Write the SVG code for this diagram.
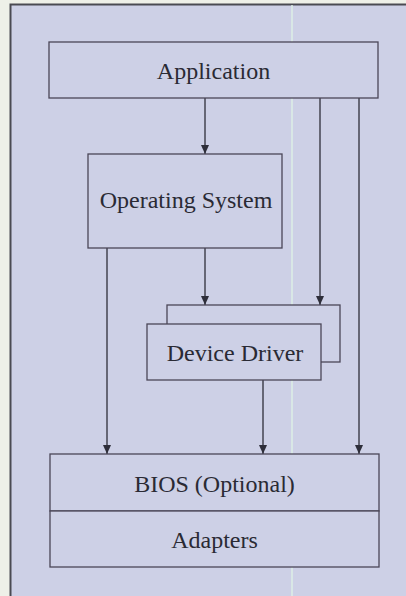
<svg xmlns="http://www.w3.org/2000/svg" width="406" height="596" viewBox="0 0 406 596">
<defs>
<marker id="ah" markerWidth="9" markerHeight="8" refX="9" refY="4" orient="auto" markerUnits="userSpaceOnUse" viewBox="0 0 9 8">
<path d="M0,0 L9,4 L0,8 Z" fill="#2e2e3a"/>
</marker>
</defs>
<style>
.box{fill:#cdd0e6;stroke:#4a4658;stroke-width:1.3}
.lbl{font-family:"Liberation Serif","Times New Roman",serif;font-size:24px;fill:#2a2a34;text-anchor:middle}
.con{stroke:#2e2e3a;stroke-width:1.3;fill:none}
.arr{marker-end:url(#ah)}
</style>
<rect x="0" y="0" width="406" height="596" fill="#eef0e8"/>
<rect x="10.5" y="4.5" width="400" height="600" fill="#cdd0e6" stroke="#4a4a52" stroke-width="2"/>
<line x1="292" y1="5" x2="292" y2="596" stroke="#dcefe6" stroke-width="1.5"/>
<g id="connectors">
<line class="con arr" x1="205" y1="98" x2="205" y2="154"/>
<line class="con arr" x1="320" y1="98" x2="320" y2="305"/>
<line class="con arr" x1="359" y1="98" x2="359" y2="454"/>
<line class="con arr" x1="205" y1="248" x2="205" y2="305"/>
<line class="con arr" x1="107" y1="248" x2="107" y2="454"/>
<line class="con arr" x1="263" y1="380" x2="263" y2="454"/>
</g>
<g id="application">
<rect class="box" x="49" y="42" width="329" height="56"/>
<text class="lbl" x="213.5" y="79">Application</text>
</g>
<g id="operating-system">
<rect class="box" x="88" y="154" width="194" height="94"/>
<text class="lbl" x="186" y="208">Operating System</text>
</g>
<g id="device-driver">
<rect class="box" x="167" y="305" width="173" height="57"/>
<rect class="box" x="147" y="324" width="174" height="56"/>
<text class="lbl" x="235" y="361">Device Driver</text>
</g>
<g id="bios">
<rect class="box" x="50" y="454" width="329" height="57"/>
<text class="lbl" x="214.5" y="492">BIOS (Optional)</text>
</g>
<g id="adapters">
<rect class="box" x="50" y="511" width="329" height="56"/>
<text class="lbl" x="214.5" y="548">Adapters</text>
</g>
</svg>
